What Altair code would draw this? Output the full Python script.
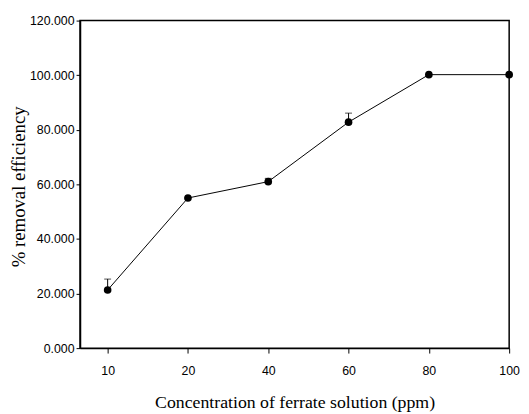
import altair as alt
import pandas as pd

concentrations = ["10", "20", "40", "60", "80", "100"]
removal = [21.3, 55.0, 61.0, 82.8, 100.2, 100.2]
upper = [25.3, 55.0, 62.2, 86.1, 100.2, 100.2]
y_ticks = [0, 20, 40, 60, 80, 100, 120]

df = pd.DataFrame({
    "idx": list(range(len(concentrations))),
    "conc": concentrations,
    "removal": removal,
    "upper": upper,
})

label_expr = "[" + ",".join("'%s'" % c for c in concentrations) + "][datum.value]"

x = alt.X("idx:Q",
          scale=alt.Scale(domain=[-0.344, 5], nice=False, zero=False),
          axis=alt.Axis(values=list(range(len(concentrations))), labelExpr=label_expr,
                        title="Concentration of ferrate solution (ppm)",
                        titleFont="Liberation Serif", titleFontSize=18, titleFontWeight="normal",
                        titleColor="black", titleX=217.5, titleY=55, titleBaseline="middle",
                        labelFont="Liberation Sans", labelFontSize=12.5, labelColor="black",
                        labelPadding=12, tickSize=5, tickColor="black", domainColor="black",
                        domainWidth=1.5, grid=False, labelFlush=False))
y = alt.Y("removal:Q",
          scale=alt.Scale(domain=[0, 120], nice=False),
          axis=alt.Axis(values=y_ticks, format=".3f",
                        title="% removal efficiency",
                        titleFont="Liberation Serif", titleFontSize=19, titleFontWeight="normal",
                        titleColor="black", titleX=-62, titleY=168, titleAngle=270,
                        titleBaseline="middle", titleAlign="center",
                        labelFont="Liberation Sans", labelFontSize=12.5, labelColor="black",
                        labelPadding=2, tickSize=4, tickColor="black", domainColor="black",
                        domainWidth=1.5, grid=False))

base = alt.Chart(df)
line = base.mark_line(color="black", strokeWidth=1).encode(x=x, y=y)
pts = base.mark_point(filled=True, color="black", size=60, opacity=1).encode(x=x, y=y)
err = base.mark_rule(color="black", strokeWidth=1).encode(x=x, y=y, y2="upper:Q")
cap = base.mark_tick(color="black", thickness=1, size=7, orient="horizontal").encode(
    x=x, y=alt.Y("upper:Q"))

chart = alt.layer(err, cap, line, pts).properties(
    width=435, height=332,
    autosize=alt.AutoSizeParams(type="none"),
    padding={"left": 73, "top": 10, "right": 12, "bottom": 64},
    background="white",
).configure_view(stroke="black", strokeWidth=1.5)

chart.save("out.html", embed_options={"renderer": "svg", "actions": False})
